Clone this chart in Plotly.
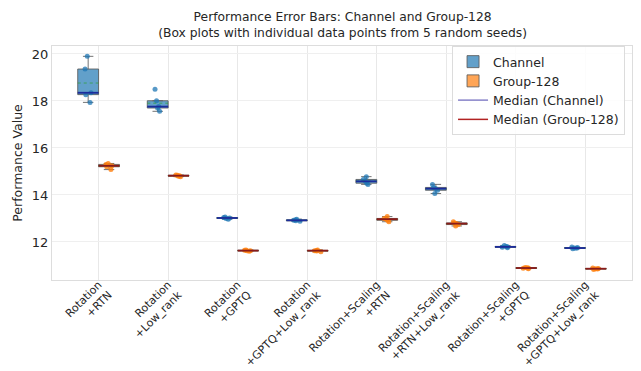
import numpy as np
import plotly.graph_objects as go

categories = [
    "Rotation<br>+RTN",
    "Rotation<br>+Low_rank",
    "Rotation<br>+GPTQ",
    "Rotation<br>+GPTQ+Low_rank",
    "Rotation+Scaling<br>+RTN",
    "Rotation+Scaling<br>+RTN+Low_rank",
    "Rotation+Scaling<br>+GPTQ",
    "Rotation+Scaling<br>+GPTQ+Low_rank",
]

channel_values = [
    [17.94, 18.27, 18.35, 19.36, 19.90],
    [17.56, 17.70, 17.76, 18.01, 18.50],
    [12.97, 13.00, 13.02, 13.04, 13.06],
    [12.88, 12.90, 12.92, 12.94, 12.97],
    [14.45, 14.50, 14.58, 14.66, 14.78],
    [14.06, 14.20, 14.27, 14.32, 14.45],
    [11.75, 11.77, 11.79, 11.81, 11.85],
    [11.71, 11.73, 11.74, 11.76, 11.78],
]

group_values = [
    [15.08, 15.20, 15.24, 15.30, 15.34],
    [14.78, 14.80, 14.82, 14.84, 14.85],
    [11.60, 11.62, 11.63, 11.65, 11.66],
    [11.58, 11.61, 11.63, 11.64, 11.66],
    [12.86, 12.92, 12.97, 13.00, 13.08],
    [12.68, 12.74, 12.78, 12.81, 12.86],
    [10.86, 10.88, 10.89, 10.90, 10.91],
    [10.83, 10.85, 10.86, 10.87, 10.89],
]

OFFSET = 0.15
BOXW = 0.3
FONT = "DejaVu Sans"
TXT = "#262626"

fig = go.Figure()

def add_series(values, offset, name, fill, point, med_color, mean_color):
    xs, ys = [], []
    for i, vals in enumerate(values):
        xs += [i + offset] * len(vals)
        ys += list(vals)
    fig.add_trace(go.Box(
        x=xs, y=ys, name=name, width=BOXW,
        quartilemethod="inclusive",
        fillcolor=fill,
        line=dict(color="rgba(90,90,90,0.85)", width=1),
        whiskerwidth=0.5,
        boxpoints="all", jitter=0.35, pointpos=0,
        marker=dict(color=point, size=5),
        showlegend=True,
    ))
    mx, my, ax, ay = [], [], [], []
    for i, vals in enumerate(values):
        c = i + offset
        med = float(np.median(vals))
        mean = float(np.mean(vals))
        mx += [c - BOXW / 2, c + BOXW / 2, None]
        my += [med, med, None]
        ax += [c - BOXW / 2, c + BOXW / 2, None]
        ay += [mean, mean, None]
    fig.add_trace(go.Scatter(x=ax, y=ay, mode="lines", showlegend=False,
                             line=dict(color=mean_color, width=1, dash="dot"),
                             hoverinfo="skip"))
    fig.add_trace(go.Scatter(x=mx, y=my, mode="lines", showlegend=False,
                             line=dict(color=med_color, width=1.8),
                             hoverinfo="skip"))

add_series(channel_values, -OFFSET, "Channel", "rgba(31,119,180,0.7)",
           "rgba(31,119,180,0.75)", "#1c2c9c", "rgba(44,160,44,0.7)")
add_series(group_values, OFFSET, "Group-128", "rgba(255,127,14,0.7)",
           "rgba(255,127,14,0.8)", "#8b1a1a", "rgba(44,160,44,0.7)")

# legend-only entries for median lines
fig.add_trace(go.Scatter(x=[None], y=[None], mode="lines", name="Median (Channel)",
                         line=dict(color="#8783c9", width=1.5)))
fig.add_trace(go.Scatter(x=[None], y=[None], mode="lines", name="Median (Group-128)",
                         line=dict(color="#b22222", width=1.5)))

fig.update_layout(
    width=641, height=371,
    margin=dict(l=44, r=17, t=38, b=99),
    paper_bgcolor="white", plot_bgcolor="white",
    font=dict(family=FONT, color=TXT, size=12),
    title=dict(
        text="Performance Error Bars: Channel and Group-128<br>(Box plots with individual data points from 5 random seeds)",
        x=0.522, xanchor="center", yref="container", y=0.965, yanchor="top",
        font=dict(size=12.3, color=TXT, family=FONT),
    ),
    boxmode="overlay",
    legend=dict(
        x=0.988, xanchor="right", y=1.0, yanchor="top",
        bordercolor="#dcdcdc", borderwidth=1, bgcolor="rgba(255,255,255,0.85)",
        font=dict(size=12.5, family=FONT, color=TXT),
        tracegroupgap=0, itemwidth=30,
    ),
    showlegend=True,
)

fig.update_xaxes(
    range=[-0.67, 7.67],
    tickmode="array", tickvals=list(range(len(categories))), ticktext=categories,
    tickangle=-45, tickfont=dict(size=11, family=FONT, color=TXT),
    ticklabelstandoff=-7,
    showgrid=True, gridcolor="#e8e8e8", gridwidth=1,
    zeroline=False, showline=True, linecolor="#dddddd", mirror=True,
    ticks="", automargin=False,
)
fig.update_yaxes(
    range=[10.38, 20.34], tickvals=[12, 14, 16, 18, 20],
    tickfont=dict(size=13, family=FONT, color=TXT),
    title=dict(text="Performance Value", font=dict(size=12.5, family=FONT, color=TXT), standoff=6),
    showgrid=True, gridcolor="#efefef", gridwidth=1,
    zeroline=False, showline=True, linecolor="#dddddd", mirror=True,
    ticks="", automargin=False,
)

fig.write_html("out.html")
